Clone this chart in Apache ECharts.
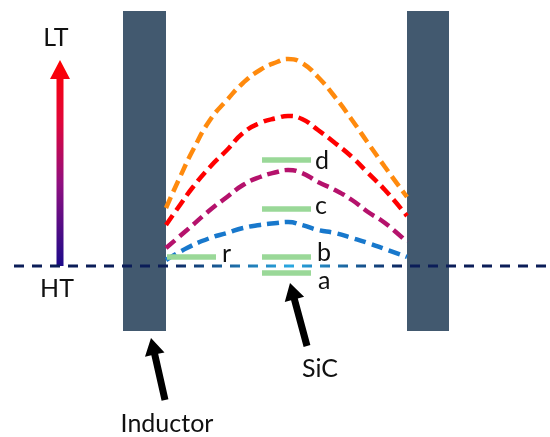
<!DOCTYPE html>
<html>
<head>
<meta charset="utf-8">
<script src="https://cdn.jsdelivr.net/npm/echarts@6/dist/echarts.min.js"></script>
<style>
html,body{margin:0;padding:0;background:#fff;}
#chart{width:550px;height:437px;}
</style>
</head>
<body>
<div id="chart"></div>
<script>
// ---- diagram data (plotted on a 550 x 437 value plane) ----
const inductors = [[123,166,11,331],[407,449,11,331]]; // x0, x1, yTop, yBottom
const curveOrange = [[166,208],[180,177],[193,150],[210,120],[227,100],[243,83],[260,70],[277,62],[288,59],[302,63],[318,77],[335,97],[352,120],[368,143],[385,167],[407,197]];
const curveRed    = [[166,225],[180,205],[193,187],[210,167],[227,150],[243,133],[260,123],[277,118],[288,116],[302,119],[318,130],[335,143],[352,157],[368,173],[385,190],[407,216]];
const curvePurple = [[166,248],[187,230],[210,210],[227,197],[243,185],[260,177],[277,172],[288,170],[302,173],[318,182],[335,190],[352,200],[368,212],[385,223],[407,242]];
const curveBlue   = [[166,260],[187,248],[210,238],[227,233],[243,228],[260,225],[277,223],[288,222],[302,225],[318,230],[335,233],[352,238],[368,243],[385,249],[407,257]];
const baseline = [[14,266],[550,266]];
const greenBars = [[262,311,160],[262,311,209],[262,311,257],[262,311,273],[167,216,257]]; // x0, x1, y
const tempArrow = [[60,266,60]]; // x, yBottom, yTip
const blackArrows = [[165,400,151,338],[307,346,290,283]]; // tailX, tailY, tipX, tipY
const textLabels = [
  ['LT',56,38,'center'],
  ['HT',57,289,'center'],
  ['Inductor',167,424,'center'],
  ['SiC',320,369,'center'],
  ['d',315,161,'left'],
  ['c',315,206,'left'],
  ['b',317,253,'left'],
  ['a',318,281,'left'],
  ['r',222,254,'left']
];

const FONT = 'Lato, "Noto Sans", sans-serif';

const chart = echarts.init(document.getElementById('chart'), null, {renderer:'canvas'});

function dashedLine(name, data, color, z){
  return {
    type:'line', name:name, data:data, smooth:0.5, symbol:'none', z:z,
    lineStyle:{color:color, width:4.5, type:[12,6], cap:'butt'},
    silent:true
  };
}

const option = {
  animation:false,
  backgroundColor:'#ffffff',
  grid:{left:0,right:0,top:0,bottom:0},
  xAxis:{type:'value',min:0,max:550,show:false},
  yAxis:{type:'value',min:0,max:437,inverse:true,show:false},
  series:[
    { // inductors
      type:'custom', z:1, silent:true, data:inductors,
      renderItem:function(params, api){
        const p0 = api.coord([api.value(0), api.value(2)]);
        const p1 = api.coord([api.value(1), api.value(3)]);
        return {type:'rect', shape:{x:p0[0], y:p0[1], width:p1[0]-p0[0], height:p1[1]-p0[1]},
                style:{fill:'#42596f'}};
      }
    },
    dashedLine('orange', curveOrange, '#ff8a0d', 3),
    dashedLine('red', curveRed, '#ff0000', 3),
    dashedLine('purple', curvePurple, '#b5126c', 3),
    dashedLine('blue', curveBlue, '#1878cc', 3),
    { // green SiC / reference bars
      type:'custom', z:4, silent:true, data:greenBars,
      renderItem:function(params, api){
        const p0 = api.coord([api.value(0), api.value(2)]);
        const p1 = api.coord([api.value(1), api.value(2)]);
        return {type:'line', shape:{x1:p0[0], y1:p0[1], x2:p1[0], y2:p1[1]},
                style:{stroke:'#9ad898', lineWidth:5.5}};
      }
    },
    { // baseline
      type:'line', data:baseline, symbol:'none', z:5, silent:true,
      lineStyle:{width:3, type:[10,8],
        color:new echarts.graphic.LinearGradient(0,0,1,0,[
          {offset:0,color:'#0b1d58'},
          {offset:0.28,color:'#0b1d58'},
          {offset:0.515,color:'#2aa8e2'},
          {offset:0.735,color:'#0b1d58'},
          {offset:1,color:'#0b1d58'}
        ])}
    },
    { // temperature arrow
      type:'custom', z:5, silent:true, data:tempArrow,
      renderItem:function(params, api){
        const b = api.coord([api.value(0), api.value(1)]);
        const t = api.coord([api.value(0), api.value(2)]);
        const x = b[0], hw = 3.5, headW = 10, headL = 19;
        const neck = t[1] + headL;
        return {type:'polygon',
          shape:{points:[[x-hw,b[1]],[x-hw,neck],[x-headW,neck],[x,t[1]],[x+headW,neck],[x+hw,neck],[x+hw,b[1]]]},
          style:{fill:new echarts.graphic.LinearGradient(0,0,0,1,[
            {offset:0,color:'#ff0000'},
            {offset:0.3,color:'#e0063a'},
            {offset:0.6,color:'#900f80'},
            {offset:1,color:'#1c0a8a'}
          ])}};
      }
    },
    { // black pointer arrows
      type:'custom', z:5, silent:true, data:blackArrows,
      renderItem:function(params, api){
        const a = api.coord([api.value(0), api.value(1)]);
        const t = api.coord([api.value(2), api.value(3)]);
        const dx = t[0]-a[0], dy = t[1]-a[1];
        const L = Math.sqrt(dx*dx+dy*dy);
        const ux = dx/L, uy = dy/L, nx = -uy, ny = ux;
        const hw = 3.5, headW = 10, headL = 17;
        const nkx = t[0]-ux*headL, nky = t[1]-uy*headL;
        return {type:'polygon', shape:{points:[
          [a[0]+nx*hw, a[1]+ny*hw],
          [nkx+nx*hw, nky+ny*hw],
          [nkx+nx*headW, nky+ny*headW],
          [t[0], t[1]],
          [nkx-nx*headW, nky-ny*headW],
          [nkx-nx*hw, nky-ny*hw],
          [a[0]-nx*hw, a[1]-ny*hw]
        ]}, style:{fill:'#000000'}};
      }
    },
    { // text labels
      type:'custom', z:6, silent:true, data:textLabels.map(function(d){return [d[1],d[2]];}),
      renderItem:function(params, api){
        const d = textLabels[params.dataIndex];
        const p = api.coord([api.value(0), api.value(1)]);
        return {type:'text', x:p[0], y:p[1],
          style:{text:d[0], fill:'#111111', fontSize:25, fontFamily:FONT,
                 align:d[3], verticalAlign:'middle'}};
      }
    }
  ]
};
chart.setOption(option);
</script>
</body>
</html>
